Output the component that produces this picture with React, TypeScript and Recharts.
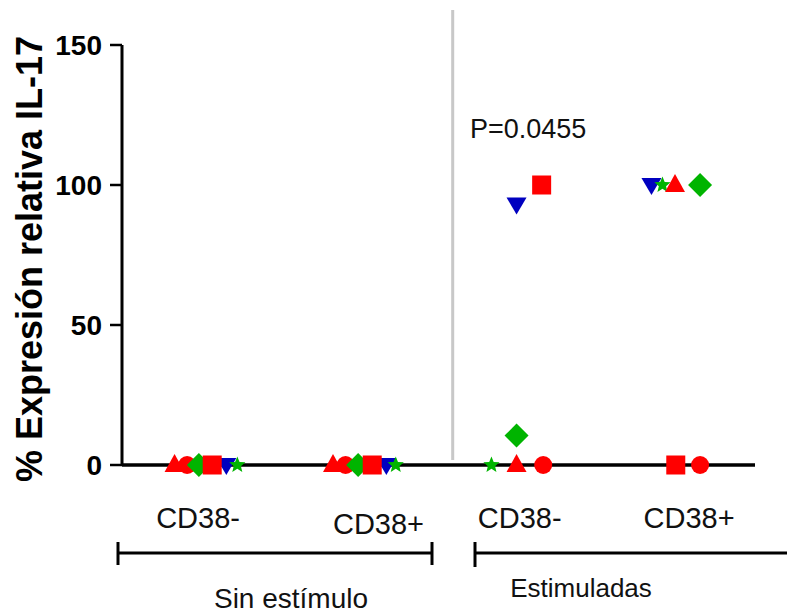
import {
  ScatterChart,
  Scatter,
  XAxis,
  YAxis,
  ReferenceLine,
} from 'recharts'

// ─── Datos ───────────────────────────────────────────────────────────────────

// posiciones en x: grupo (1..4) + desplazamiento dentro de la columna
const grupos = ['CD38-', 'CD38+', 'CD38-', 'CD38+']
const gruposTicks = [0.95, 2.1, 3.0, 4.08]
const condiciones = ['Sin estímulo', 'Estimuladas']
const pValor = 'P=0.0455'

const trianguloX = [0.8, 1.81, 2.98, 3.99]
const trianguloY = [0, 0, 0, 100]

const circuloX = [0.88, 1.89, 3.15, 4.15]
const circuloY = [0, 0, 0, 0]

const diamanteX = [0.955, 1.97, 2.98, 4.15]
const diamanteY = [0, 0, 10.5, 100]

const trianguloInvX = [1.13, 2.15, 2.98, 3.84]
const trianguloInvY = [0, 0, 93, 100]

const estrellaX = [1.2, 2.21, 2.82, 3.91]
const estrellaY = [0, 0, 0, 100]

const cuadradoX = [1.04, 2.06, 3.14, 3.995]
const cuadradoY = [0, 0, 100, 0]

const yTicks = [0, 50, 100, 150]

const ROJO = '#ff0000'
const VERDE = '#00b400'
const AZUL = '#0000c0'

const FUENTE = '"Liberation Sans", Arial, sans-serif'

const toPuntos = (xs: number[], ys: number[]) => xs.map((x, i) => ({ x, y: ys[i] }))

// ─── Marcadores ──────────────────────────────────────────────────────────────

type Tipo = 'triangulo' | 'circulo' | 'diamante' | 'trianguloInv' | 'estrella' | 'cuadrado'

function Marca({ cx, cy, tipo, color }: { cx?: number; cy?: number; tipo: Tipo; color: string }) {
  if (cx == null || cy == null) return null
  switch (tipo) {
    case 'circulo':
      return <circle cx={cx} cy={cy} r={9} fill={color} />
    case 'cuadrado':
      return <rect x={cx - 9.5} y={cy - 9.5} width={19} height={19} fill={color} />
    case 'diamante':
      return (
        <polygon
          points={`${cx},${cy - 12} ${cx + 12},${cy} ${cx},${cy + 12} ${cx - 12},${cy}`}
          fill={color}
        />
      )
    case 'triangulo':
      return (
        <polygon
          points={`${cx},${cy - 11} ${cx + 10},${cy + 7} ${cx - 10},${cy + 7}`}
          fill={color}
        />
      )
    case 'trianguloInv':
      return (
        <polygon
          points={`${cx - 10},${cy - 7} ${cx + 10},${cy - 7} ${cx},${cy + 10}`}
          fill={color}
        />
      )
    case 'estrella': {
      const pts: string[] = []
      for (let i = 0; i < 10; i++) {
        const r = i % 2 === 0 ? 8.5 : 3.8
        const a = -Math.PI / 2 + (i * Math.PI) / 5
        pts.push(`${cx + r * Math.cos(a)},${cy + r * Math.sin(a)}`)
      }
      return <polygon points={pts.join(' ')} fill={color} />
    }
  }
  return null
}

const series: { tipo: Tipo; color: string; data: { x: number; y: number }[] }[] = [
  { tipo: 'circulo', color: ROJO, data: toPuntos(circuloX, circuloY) },
  { tipo: 'diamante', color: VERDE, data: toPuntos(diamanteX, diamanteY) },
  { tipo: 'trianguloInv', color: AZUL, data: toPuntos(trianguloInvX, trianguloInvY) },
  { tipo: 'estrella', color: VERDE, data: toPuntos(estrellaX, estrellaY) },
  { tipo: 'triangulo', color: ROJO, data: toPuntos(trianguloX, trianguloY) },
  { tipo: 'cuadrado', color: ROJO, data: toPuntos(cuadradoX, cuadradoY) },
]

// ─── Ejes ────────────────────────────────────────────────────────────────────

function TickGrupo(props: any) {
  const { x, y, payload } = props
  const i = gruposTicks.indexOf(payload.value)
  const dy = i === 1 ? 69 : 63
  return (
    <text x={x} y={y + dy} textAnchor="middle" fontFamily={FUENTE} fontSize={29} fill="#111">
      {grupos[i]}
    </text>
  )
}

function TickY(props: any) {
  const { x, y, payload } = props
  return (
    <text
      x={x}
      y={y}
      dy={10}
      textAnchor="end"
      fontFamily={FUENTE}
      fontWeight="bold"
      fontSize={28}
      fill="#000"
    >
      {payload.value}
    </text>
  )
}

export default function App() {
  return (
    <div style={{ position: 'absolute', left: 0, top: 0, width: 787, height: 613, background: '#fff' }}>
      <ScatterChart
        width={787}
        height={613}
        margin={{ top: 45, right: 32, left: 0, bottom: 88 }}
      >
        <XAxis
          type="number"
          dataKey="x"
          domain={[0.465, 4.5]}
          ticks={gruposTicks}
          allowDataOverflow
          height={60}
          tickLine={false}
          tickSize={0}
          tickMargin={0}
          axisLine={{ stroke: '#000', strokeWidth: 3.5 }}
          tick={<TickGrupo />}
        />
        <YAxis
          type="number"
          dataKey="y"
          domain={[0, 150]}
          ticks={yTicks}
          width={122}
          tickSize={12}
          tickMargin={8}
          tickLine={{ stroke: '#000', strokeWidth: 2.5 }}
          axisLine={{ stroke: '#000', strokeWidth: 3 }}
          tick={<TickY />}
        />
        <ReferenceLine
          segment={[
            { x: 2.573, y: 162.5 },
            { x: 2.573, y: 1.8 },
          ]}
          stroke="#c8c8c8"
          strokeWidth={3}
          ifOverflow="visible"
        />
        {series.map((s) => (
          <Scatter
            key={s.tipo}
            data={s.data}
            isAnimationActive={false}
            shape={(p: any) => <Marca cx={p.cx} cy={p.cy} tipo={s.tipo} color={s.color} />}
          />
        ))}
      </ScatterChart>

      {/* rótulos, llaves de condición y valor p */}
      <svg
        width={787}
        height={613}
        style={{ position: 'absolute', left: 0, top: 0, pointerEvents: 'none' }}
      >
        <text
          transform="translate(42 259) rotate(-90)"
          textAnchor="middle"
          fontFamily={FUENTE}
          fontWeight="bold"
          fontSize={36}
          fill="#000"
        >
          % Expresión relativa IL-17
        </text>
        <text x={470} y={138} fontFamily={FUENTE} fontSize={27} fill="#111">
          {pValor}
        </text>

        <g stroke="#000" strokeWidth={3}>
          <line x1={117} y1={553} x2={433} y2={553} />
          <line x1={118} y1={542} x2={118} y2={565} />
          <line x1={432} y1={542} x2={432} y2={565} />
          <line x1={474} y1={553} x2={787} y2={553} />
          <line x1={475} y1={542} x2={475} y2={567} />
        </g>
        <text x={291} y={608} textAnchor="middle" fontFamily={FUENTE} fontSize={28} fill="#111">
          {condiciones[0]}
        </text>
        <text x={581} y={597} textAnchor="middle" fontFamily={FUENTE} fontSize={26} fill="#111">
          {condiciones[1]}
        </text>
      </svg>
    </div>
  )
}
